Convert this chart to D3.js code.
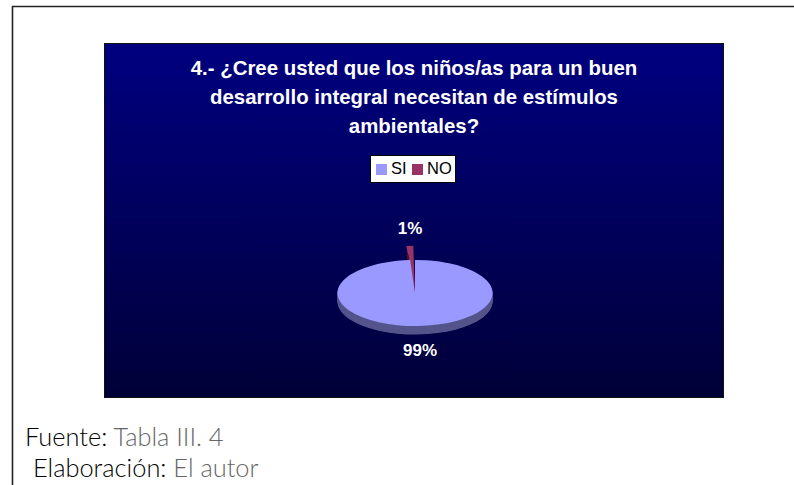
<!DOCTYPE html>
<html><head><meta charset="utf-8">
<script src="https://cdn.jsdelivr.net/npm/d3@7"></script>
<style>html,body{margin:0;padding:0;background:#fff;overflow:hidden}svg{display:block}</style>
</head><body><svg id="c" width="794" height="485"></svg>
<script>
const categories = ["SI","NO"];
const values = [99,1];
const labels = ["99%","1%"];
const colors = ["#9999ff","#993366"];
const wallColors = ["#55558c","#3d1428"];
const titleLines = ["4.- ¿Cree usted que los niños/as para un buen","desarrollo integral necesitan de estímulos","ambientales?"];

const svg = d3.select("#c");
const defs = svg.append("defs");
const g = defs.append("linearGradient").attr("id","bg").attr("x1",0).attr("y1",0).attr("x2",0).attr("y2",1);
g.append("stop").attr("offset",0).attr("stop-color","#000080");
g.append("stop").attr("offset",1).attr("stop-color","#000038");

// page frame
svg.append("line").attr("x1",12).attr("x2",794).attr("y1",6.5).attr("y2",6.5).attr("stroke","#222").attr("stroke-width",1.6);
svg.append("line").attr("x1",12.5).attr("x2",12.5).attr("y1",6).attr("y2",485).attr("stroke","#222").attr("stroke-width",1.6);

// chart area
svg.append("rect").attr("x",104.5).attr("y",43.5).attr("width",619).attr("height",354).attr("fill","url(#bg)").attr("stroke","#111").attr("stroke-width",1);

const font = "'Liberation Sans',Arial,sans-serif";
svg.append("g").selectAll("text").data(titleLines).join("text")
  .attr("x",414).attr("y",(d,i)=>75+i*29).attr("text-anchor","middle")
  .attr("font-family",font).attr("font-weight","bold").attr("font-size",20.4).attr("fill","#fff").text(d=>d);

// legend
const legend = svg.append("g");
legend.append("rect").attr("x",370.5).attr("y",155.5).attr("width",85).attr("height",27).attr("fill","#fff").attr("stroke","#000");
const lx = d3.scalePoint().domain(categories).range([376,412]);
legend.selectAll("rect.k").data(categories).join("rect").attr("class","k")
  .attr("x",d=>lx(d)).attr("y",164).attr("width",11).attr("height",11).attr("fill",(d,i)=>colors[i]);
legend.selectAll("text").data(categories).join("text")
  .attr("x",d=>lx(d)+15).attr("y",174).attr("font-family",font).attr("font-size",16.5).attr("fill","#000").text(d=>d);

// pie
const cx=415, cy=293, rx=77.5, ry=33, depth=8.5;
const tilt = ry/rx;
const pie = d3.pie().sort(null).startAngle(0).endAngle(2*Math.PI);
const slices = pie(values);
const arc = d3.arc().innerRadius(0);
const extend = 1.43;
const rotate = -0.016;
const pieG = svg.append("g").attr("transform",`translate(${cx},${cy}) scale(1,${tilt})`);
// walls
for(let k=depth;k>0;k-=0.5){
  pieG.append("path").attr("d",arc({...slices[0],outerRadius:rx}))
    .attr("transform",`translate(0,${k/tilt})`).attr("fill",wallColors[0]);
}
// raised NO slice
const noArc = {startAngle:slices[1].startAngle+rotate,endAngle:slices[1].endAngle+rotate,outerRadius:rx*extend};
pieG.append("path").attr("d",arc(noArc)).attr("fill",colors[1]);
pieG.append("path").attr("d",arc({...noArc,endAngle:noArc.startAngle+0.02}))
    .attr("transform",`translate(0,${depth/tilt})`).attr("fill",wallColors[1]);
pieG.append("path").attr("d",arc({...slices[0],outerRadius:rx})).attr("fill",colors[0]);

svg.append("g").selectAll("text").data(labels).join("text")
  .attr("x",(d,i)=>i==0?420:410).attr("y",(d,i)=>i==0?356:234).attr("text-anchor","middle")
  .attr("font-family",font).attr("font-weight","bold").attr("font-size",17).attr("fill","#fff").text(d=>d);

// footer
const ff="Lato,'Open Sans',sans-serif";
const f1=svg.append("text").attr("x",25).attr("y",446).attr("font-family",ff).attr("font-size",25.4);
f1.append("tspan").attr("fill","#000").attr("font-weight",300).text("Fuente: ");
f1.append("tspan").attr("fill","#666").attr("font-weight",300).text("Tabla III. 4");
const f2=svg.append("text").attr("x",33).attr("y",477).attr("font-family",ff).attr("font-size",25.4);
f2.append("tspan").attr("fill","#000").attr("font-weight",300).text("Elaboración: ");
f2.append("tspan").attr("fill","#666").attr("font-weight",300).text("El autor");
</script></body></html>
